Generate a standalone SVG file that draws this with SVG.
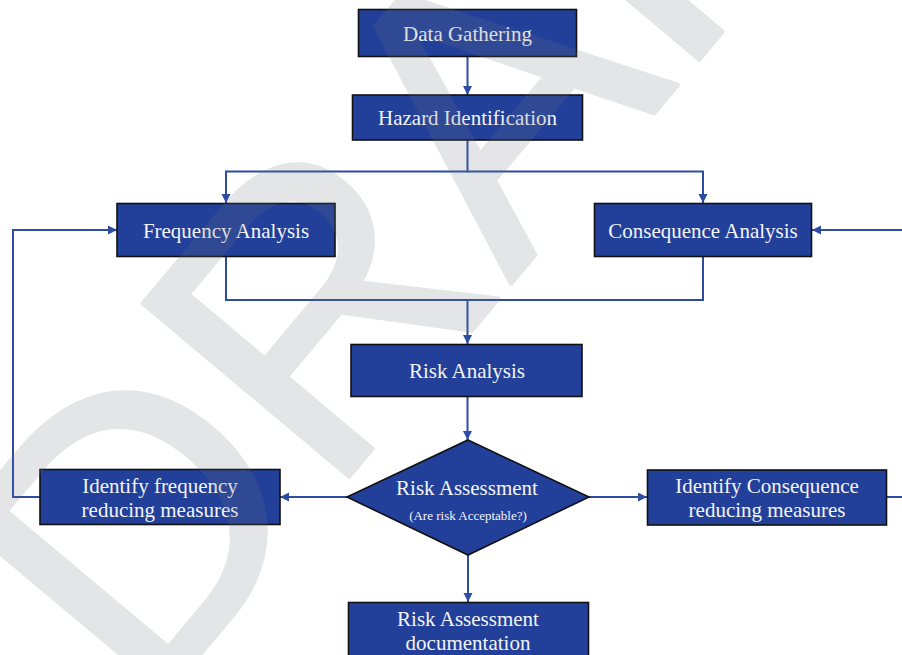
<svg xmlns="http://www.w3.org/2000/svg" width="902" height="655" viewBox="0 0 902 655">
<defs>
<style>
.box{fill:#22409a;stroke:#111;stroke-width:1.6}
.t{font-family:"Liberation Serif","Times New Roman",serif;font-size:21px;fill:#f4f4f4;text-anchor:middle}
.s{font-size:13px}
.c{fill:none;stroke:#2d4ca2;stroke-width:2}
.wm{font-family:"Liberation Sans",Arial,sans-serif;font-size:392px;fill:#6e737a;stroke:#6e737a;stroke-width:4;stroke-linejoin:round}
</style>
<marker id="ah" markerUnits="userSpaceOnUse" markerWidth="10" markerHeight="10" refX="9" refY="4.5" orient="auto">
<path d="M0,0 L9,4.5 L0,9 z" fill="#2d4ca2"/>
</marker>
</defs>
<rect width="902" height="655" fill="#fff"/>
<g id="connectors">
<path class="c" d="M467.5,57 V95" marker-end="url(#ah)"/>
<path class="c" d="M467.5,140 V171.5 H226 V203" marker-end="url(#ah)"/>
<path class="c" d="M467.5,171.5 H703 V203" marker-end="url(#ah)"/>
<path class="c" d="M226,257 V300 H467.5 V344" marker-end="url(#ah)"/>
<path class="c" d="M703,257 V300 H467.5"/>
<path class="c" d="M467.5,397 V440" marker-end="url(#ah)"/>
<path class="c" d="M347,497 H280" marker-end="url(#ah)"/>
<path class="c" d="M589,497 H647" marker-end="url(#ah)"/>
<path class="c" d="M40,497 H13 V230 H117" marker-end="url(#ah)"/>
<path class="c" d="M887,497 H902"/>
<path class="c" d="M902,230 H812" marker-end="url(#ah)"/>
<path class="c" d="M468,555 V602" marker-end="url(#ah)"/>
</g>
<g id="data-gathering">
<rect class="box" x="358.5" y="9.5" width="218" height="47"/>
<text class="t" x="467.5" y="41">Data Gathering</text>
</g>
<g id="hazard-identification">
<rect class="box" x="352.5" y="95" width="230" height="45"/>
<text class="t" x="467.5" y="125">Hazard Identification</text>
</g>
<g id="frequency-analysis">
<rect class="box" x="117" y="203.5" width="218" height="53"/>
<text class="t" x="226" y="238">Frequency Analysis</text>
</g>
<g id="consequence-analysis">
<rect class="box" x="594.5" y="203.5" width="217" height="53"/>
<text class="t" x="703" y="238">Consequence Analysis</text>
</g>
<g id="risk-analysis">
<rect class="box" x="351" y="344.5" width="231" height="52"/>
<text class="t" x="467" y="378">Risk Analysis</text>
</g>
<g id="risk-assessment">
<polygon class="box" points="468,440 589,497 468,555 347,497"/>
<text class="t" x="467" y="495">Risk Assessment</text>
<text class="t s" x="468" y="520">(Are risk Acceptable?)</text>
</g>
<g id="identify-frequency">
<rect class="box" x="40" y="469.5" width="240" height="55"/>
<text class="t" x="160" y="493">Identify frequency</text>
<text class="t" x="160" y="517">reducing measures</text>
</g>
<g id="identify-consequence">
<rect class="box" x="647.5" y="470" width="239" height="55"/>
<text class="t" x="767" y="493">Identify Consequence</text>
<text class="t" x="767" y="517">reducing measures</text>
</g>
<g id="risk-assessment-documentation">
<rect class="box" x="348.5" y="602.5" width="240" height="70"/>
<text class="t" x="468" y="626">Risk Assessment</text>
<text class="t" x="468" y="650">documentation</text>
</g>
<g id="watermark" opacity="0.18">
<text class="wm" x="-456" y="574" transform="rotate(-50)">DRAFT</text>
</g>
</svg>
